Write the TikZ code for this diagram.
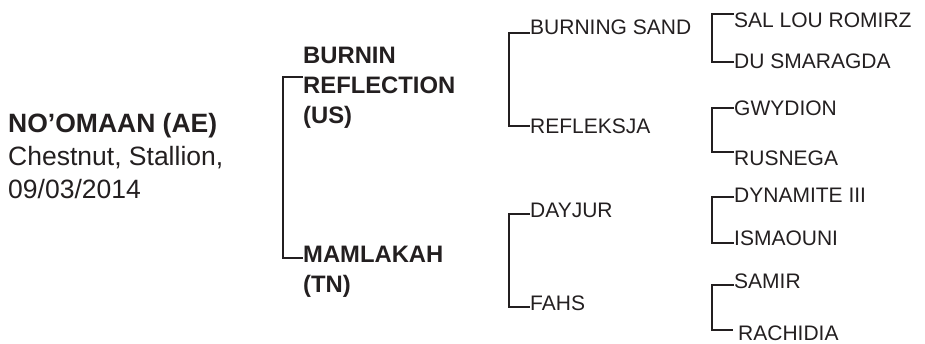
\documentclass[tikz,border=0pt]{standalone}
\usepackage{fontspec}
\setmainfont{Liberation Sans}
\usetikzlibrary{positioning}
\definecolor{pedink}{HTML}{231F20}
\tikzset{
    horse/.style={inner sep=0pt, anchor=base west, text=pedink,
        font=\fontsize{21}{24}\selectfont},
    parent/.style={inner sep=0pt, anchor=north west, align=left, text=pedink,
        font=\fontsize{23.8}{30}\selectfont\bfseries},
    subject/.style={inner sep=0pt, anchor=north west, align=left, text=pedink,
        font=\fontsize{26.5}{33}\selectfont},
    bracket/.style={draw=pedink, line width=2.8pt},
}

\begin{document}
\begin{tikzpicture}[x=1pt,y=-1pt]
            \useasboundingbox (0,0) rectangle (925,343);

            % The horse itself
            \node[subject] (H) at (8,112.7) {\textbf{NO’OMAAN (AE)}\\Chestnut, Stallion,\\09/03/2014};

            % Sire and dam
            \node[parent] (S) at (303,47)  {BURNIN\\REFLECTION\\(US)};
            \node[parent] (D) at (303,246) {MAMLAKAH\\(TN)};

            % Grandparents
            \node[horse] (SS) at (530,34)  {BURNING SAND};
            \node[horse] (SD) at (530,133) {REFLEKSJA};
            \node[horse] (DS) at (530,217) {DAYJUR};
            \node[horse] (DD) at (530,310) {FAHS};

            % Great-grandparents
            \node[horse] (SSS) at (734,27)  {SAL LOU ROMIRZ};
            \node[horse] (SSD) at (734,68)  {DU SMARAGDA};
            \node[horse] (SDS) at (734,115) {GWYDION};
            \node[horse] (SDD) at (734,165) {RUSNEGA};
            \node[horse] (DSS) at (734,202) {DYNAMITE III};
            \node[horse] (DSD) at (734,245) {ISMAOUNI};
            \node[horse] (DDS) at (734,288) {SAMIR};
            \node[horse] (DDD) at (738,340) {RACHIDIA};

            % Connect the parents with brackets
            \draw[bracket] ([yshift=-30pt]S.north west) -- ++(-20,0) |- ([yshift=-12pt]D.north west);

            \draw[bracket] ([yshift=1pt]SS.base west) -- ++(-21,0) |- ([yshift=7pt]SD.base west);
            \draw[bracket] ([yshift=3pt]DS.base west) -- ++(-21,0) |- ([yshift=3pt]DD.base west);

            \draw[bracket] ([yshift=13pt]SSS.base west) -- ++(-22,0) |- ([yshift=6pt]SSD.base west);
            \draw[bracket] ([yshift=7pt]SDS.base west) -- ++(-22,0) |- ([yshift=13pt]SDD.base west);
            \draw[bracket] ([yshift=5pt]DSS.base west) -- ++(-22,0) |- ([yshift=2pt]DSD.base west);
            \draw[bracket] ([yshift=3pt]DDS.base west) -- ++(-22,0) |- ([xshift=-5pt,yshift=10pt]DDD.base west);

        \end{tikzpicture}
\end{document}
